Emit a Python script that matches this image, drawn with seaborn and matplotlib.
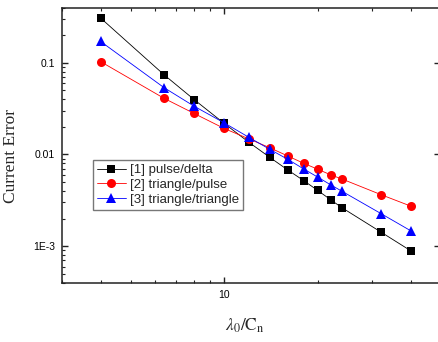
import numpy as np
import pandas as pd
import matplotlib
matplotlib.use("Agg")
import matplotlib.pyplot as plt
import matplotlib.ticker as mticker
import seaborn as sns

# ------------------------------------------
# data
# ------------------------------------------
ratio = [4, 6.4, 8, 10, 12, 14, 16, 18, 20, 22, 24, 32, 40]

err_pulse_delta = [0.308, 0.0741, 0.0397, 0.0218, 0.0136, 0.00933, 0.00679,
                   0.0052, 0.00405, 0.00321, 0.00261, 0.00142, 0.000883]
err_tri_pulse = [0.103, 0.041, 0.028, 0.0192, 0.0148, 0.01186, 0.00964,
                 0.00803, 0.0069, 0.006, 0.00538, 0.00364, 0.00272]
err_tri_tri = [0.171, 0.0536, 0.0336, 0.0221, 0.0154, 0.0114, 0.00887,
               0.00697, 0.00566, 0.00467, 0.00395, 0.00226, 0.00146]

labels = ["[1] pulse/delta", "[2] triangle/pulse", "[3] triangle/triangle"]
colors = ["black", "red", "blue"]
markers = ["s", "o", "^"]

# ------------------------------------------
# style
# ------------------------------------------
sns.set_style("ticks")
plt.rcParams["font.family"] = ["Liberation Sans", "DejaVu Sans"]
plt.rcParams["mathtext.fontset"] = "stix"

fig = plt.figure(figsize=(4.39, 3.42), dpi=100)
ax = fig.add_axes([0.1405, 0.1734, 0.862, 0.8046])

series = [err_pulse_delta, err_tri_pulse, err_tri_tri]
sizes = [6, 6.5, 7.5]
for vals, lab, col, mk, ms in zip(series, labels, colors, markers, sizes):
    df = pd.DataFrame({"ratio": ratio, "err": vals})
    sns.lineplot(data=df, x="ratio", y="err", ax=ax, color=col, marker=mk,
                 markersize=ms, markeredgewidth=0, linewidth=0.6,
                 label=lab, alpha=1)

ax.set_xscale("log")
ax.set_yscale("log")
ax.set_xlim(3, 49.5)
ax.set_ylim(4e-4, 0.4)

ax.set_yticks([1e-3, 1e-2, 1e-1])
ax.set_yticklabels(["1E-3", "0.01", "0.1"])
ax.set_xticks([10])
ax.set_xticklabels(["10"])
ax.xaxis.set_minor_locator(mticker.LogLocator(base=10, subs=np.arange(2, 10)))
ax.xaxis.set_minor_formatter(mticker.NullFormatter())
ax.yaxis.set_minor_locator(mticker.LogLocator(base=10, subs=np.arange(2, 10)))
ax.yaxis.set_minor_formatter(mticker.NullFormatter())

ax.tick_params(which="both", direction="in", top=True, right=True,
               colors="#222222", labelcolor="black", labelsize=7.5)
ax.tick_params(which="major", length=4.5, width=1, pad=5)
ax.tick_params(which="minor", length=2.5, width=0.8)
ax.tick_params(axis="y", which="minor", right=False)

for sp in ax.spines.values():
    sp.set_visible(True)
    sp.set_linewidth(1.1)
    sp.set_color("#222222")

ax.set_xlabel(r"$\lambda_0/\mathrm{C}_\mathrm{n}$", fontsize=12.5, va="center")
ax.xaxis.set_label_coords(0.485, -0.158)
ax.set_ylabel("Current Error", fontsize=12.5, family="Liberation Serif",
              va="center")
ax.yaxis.set_label_coords(-0.134, 0.46)

leg = ax.legend(loc="upper left", bbox_to_anchor=(0.082, 0.446),
                borderaxespad=0, fontsize=9.5, frameon=True, fancybox=False,
                handlelength=2.2, handletextpad=0.3, labelspacing=0.2,
                borderpad=0.3)
leg.get_frame().set_edgecolor("#555555")
leg.get_frame().set_linewidth(1.0)

fig.savefig("out.png", dpi=100)
